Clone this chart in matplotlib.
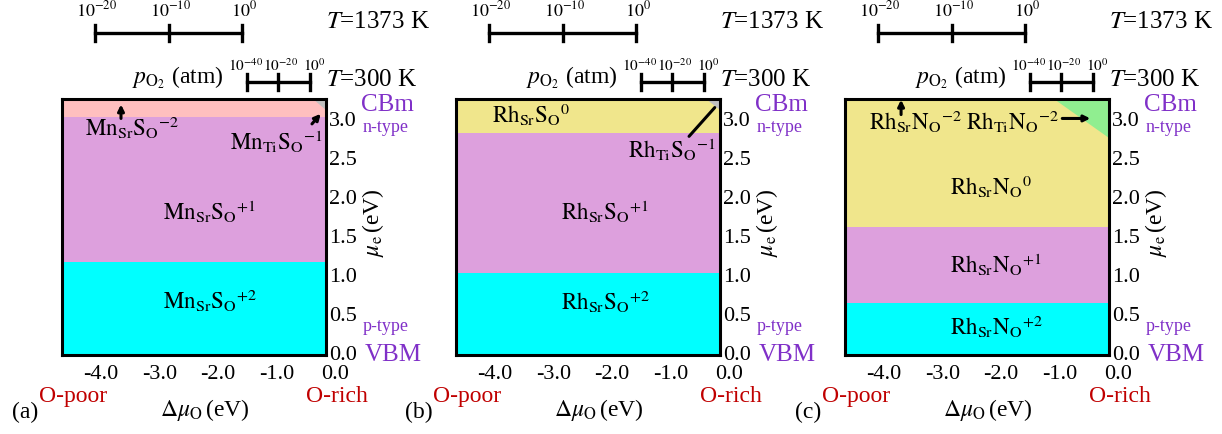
import matplotlib
matplotlib.use("Agg")
import matplotlib.pyplot as plt

plt.rcParams["font.family"] = ["Liberation Serif", "DejaVu Serif"]
plt.rcParams["mathtext.fontset"] = "stix"

# ---- data ----
XLIM = (-4.67, -0.15)
YMAX = 3.29
X_TICKS = [-4.0, -3.0, -2.0, -1.0, 0.0]
Y_TICKS = [0.0, 0.5, 1.0, 1.5, 2.0, 2.5, 3.0]

PANEL_TAGS = ["(a)", "(b)", "(c)"]

# horizontal bands: bottom/top edges (eV) and fill colours
BAND_EDGES = [
    [0.0, 1.19, 3.06, YMAX],
    [0.0, 1.06, 2.85, YMAX],
    [0.0, 0.67, 1.64, YMAX],
]
BAND_COLOURS = [
    ["#00FFFF", "#DDA0DD", "#FFBFBF"],
    ["#00FFFF", "#DDA0DD", "#F0E68C"],
    ["#00FFFF", "#DDA0DD", "#F0E68C"],
]

# corner triangle per panel: (x on top edge, y on right edge, colour)
CORNER_X = [-0.37, -0.39, -1.10]
CORNER_Y = [3.15, 3.15, 2.79]
CORNER_COLOURS = ["#C0C0C0", "#C0C0C0", "#90EE90"]

# region labels: (text, x_left, y)
LABELS = [
    [(r"$\mathrm{Mn_{Sr}S_{O}}^{-2}$", -4.28, 2.92),
     (r"$\mathrm{Mn_{Ti}S_{O}}^{-1}$", -1.80, 2.74),
     (r"$\mathrm{Mn_{Sr}S_{O}}^{+1}$", -2.94, 1.84),
     (r"$\mathrm{Mn_{Sr}S_{O}}^{+2}$", -2.94, 0.70)],
    [(r"$\mathrm{Rh_{Sr}S_{O}}^{0}$", -4.05, 3.09),
     (r"$\mathrm{Rh_{Ti}S_{O}}^{-1}$", -1.72, 2.64),
     (r"$\mathrm{Rh_{Sr}S_{O}}^{+1}$", -2.87, 1.84),
     (r"$\mathrm{Rh_{Sr}S_{O}}^{+2}$", -2.87, 0.68)],
    [(r"$\mathrm{Rh_{Sr}N_{O}}^{-2}$", -4.26, 3.00),
     (r"$\mathrm{Rh_{Ti}N_{O}}^{-2}$", -2.60, 3.00),
     (r"$\mathrm{Rh_{Sr}N_{O}}^{0}$", -2.87, 2.16),
     (r"$\mathrm{Rh_{Sr}N_{O}}^{+1}$", -2.87, 1.16),
     (r"$\mathrm{Rh_{Sr}N_{O}}^{+2}$", -2.87, 0.36)],
]

# pointer arrows: (x_tail, y_tail, x_head, y_head, with_head)
ARROWS = [
    [(-3.66, 3.04, -3.66, 3.22, True), (-0.39, 2.97, -0.24, 3.10, True)],
    [(-0.68, 2.81, -0.24, 3.18, False)],
    [(-3.71, 3.09, -3.71, 3.28, True), (-0.95, 3.04, -0.47, 3.04, True)],
]

# oxygen partial pressure scale bars (x positions in dmu_O units)
P_1373_X = [-4.10, -2.84, -1.59]
P_1373_LABELS = [r"$10^{-20}$", r"$10^{-10}$", r"$10^{0}$"]
P_300_X = [-1.50, -0.97, -0.42]
P_300_LABELS = [r"$10^{-40}$", r"$10^{-20}$", r"$10^{0}$"]

PURPLE = "#8030C8"
RED = "#C00000"

fig = plt.figure(figsize=(12.22, 4.34), dpi=100)
lefts = [62, 456, 845]
for i, left in enumerate(lefts):
    ax = fig.add_axes([left / 1222, 79 / 434, 264 / 1222, 256 / 434])
    ax.set_xlim(*XLIM)
    ax.set_ylim(0, YMAX)
    ax.set_xticks([])
    ax.set_yticks([])
    for sp in ax.spines.values():
        sp.set_linewidth(2.2)
        sp.set_zorder(5)

    edges = BAND_EDGES[i]
    for lo, hi, col in zip(edges[:-1], edges[1:], BAND_COLOURS[i]):
        ax.fill_between(XLIM, lo, hi, color=col, lw=0, zorder=1)
    ax.fill([CORNER_X[i], XLIM[1], XLIM[1]], [YMAX, YMAX, CORNER_Y[i]],
            color=CORNER_COLOURS[i], lw=0, zorder=2)

    for txt, x, y in LABELS[i]:
        ax.text(x, y, txt, fontsize=16.5, ha="left", va="center", zorder=4)
    for x0, y0, x1, y1, head in ARROWS[i]:
        style = "-|>" if head else "-"
        ax.annotate("", xy=(x1, y1), xytext=(x0, y0),
                    arrowprops=dict(arrowstyle=style, color="black", lw=2.2,
                                    mutation_scale=9, shrinkA=0, shrinkB=0),
                    zorder=4)

    # tick labels written as text so 0.0 can sit past the right edge
    xt = ax.get_xaxis_transform()
    for v in X_TICKS:
        ax.text(v, -0.078, f"{v:.1f}", transform=xt, ha="center", va="center",
                fontsize=16, clip_on=False)
    yt = ax.get_yaxis_transform()
    for v in Y_TICKS:
        ax.text(1.012, v, f"{v:.1f}", transform=yt, ha="left", va="center",
                fontsize=16, clip_on=False)

    ax.text(1.178, 0.516, r"$\mu_\mathrm{e}\,$(eV)", transform=ax.transAxes,
            rotation=90, ha="center", va="center", fontsize=17)
    ax.text(1.134, 0.975, "CBm", transform=ax.transAxes, ha="left", va="center",
            fontsize=18, color=PURPLE)
    ax.text(1.225, 0.89, "n-type", transform=ax.transAxes, ha="center",
            va="center", fontsize=13, color=PURPLE)
    ax.text(1.225, 0.11, "p-type", transform=ax.transAxes, ha="center",
            va="center", fontsize=13, color=PURPLE)
    ax.text(1.145, 0.0, "VBM", transform=ax.transAxes, ha="left", va="center",
            fontsize=18, color=PURPLE)

    ax.text(-0.14, -0.225, PANEL_TAGS[i], transform=ax.transAxes, ha="center",
            va="center", fontsize=17)
    ax.text(0.042, -0.164, "O-poor", transform=ax.transAxes, ha="center",
            va="center", fontsize=17, color=RED)
    ax.text(1.04, -0.164, "O-rich", transform=ax.transAxes, ha="center",
            va="center", fontsize=17, color=RED)
    ax.text(0.54, -0.215, r"$\Delta\mu_\mathrm{O}\,$(eV)", transform=ax.transAxes,
            ha="center", va="center", fontsize=17)

    # pO2 scale bars
    for xs, labs, yb, yl, fs, shifts in [
            (P_1373_X, P_1373_LABELS, 1.258, 1.345, 13, [0.03, 0.03, 0.03]),
            (P_300_X, P_300_LABELS, 1.066, 1.13, 11, [-0.03, 0.05, 0.07])]:
        ax.plot([xs[0], xs[-1]], [yb, yb], color="black", lw=2.4,
                transform=xt, clip_on=False)
        for x, lab, dx in zip(xs, labs, shifts):
            ax.plot([x, x], [yb - 0.032, yb + 0.032], color="black", lw=2.4,
                    transform=xt, clip_on=False)
            ax.text(x + dx, yl, lab, transform=xt, ha="center", va="center",
                    fontsize=fs, clip_on=False)
    ax.text(0.44, 1.085, r"$p_{\mathrm{O_2}}$ (atm)", transform=ax.transAxes,
            ha="center", va="center", fontsize=17)
    ax.text(1.0, 1.30, r"$T$=1373 K", transform=ax.transAxes, ha="left",
            va="center", fontsize=18)
    ax.text(1.0, 1.074, r"$T$=300 K", transform=ax.transAxes, ha="left",
            va="center", fontsize=18)

fig.savefig("out.png", dpi=100)
